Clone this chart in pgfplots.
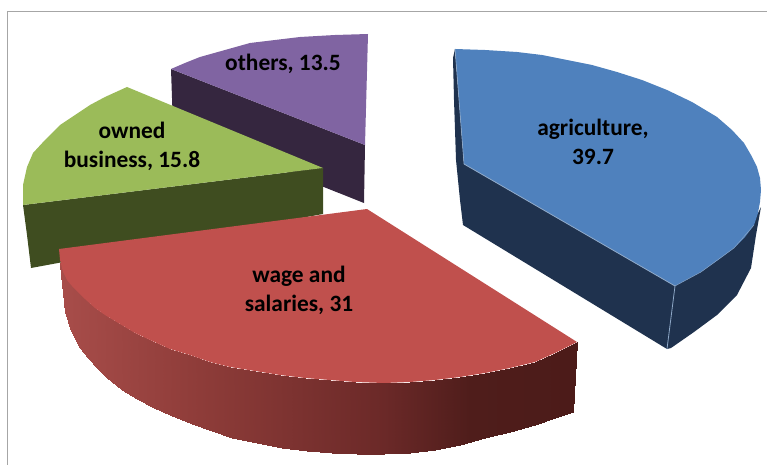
\documentclass[border=0pt]{standalone}
\usepackage{pgfplots}
\pgfplotsset{compat=1.18}
\usepackage{fontspec}
\setmainfont{Carlito}
\definecolor{bluetop}{HTML}{4F81BD}
\definecolor{blueside}{HTML}{1F324E}
\definecolor{bluelight}{HTML}{8FA9C8}
\definecolor{redtop}{HTML}{C0504D}
\definecolor{greentop}{HTML}{9BBB59}
\definecolor{greenside}{HTML}{3F4D20}
\definecolor{purpletop}{HTML}{8064A2}
\definecolor{purpleside}{HTML}{35263F}
\definecolor{framegray}{HTML}{A6A6A6}
\tikzset{lab/.style={font=\fontsize{23.4}{29}\selectfont\bfseries, align=center, text=black}}
\begin{document}
\begin{tikzpicture}
\begin{axis}[
    scale only axis,
    width=767pt,
    height=465pt,
    xmin=0, xmax=767,
    ymin=0, ymax=465,
    y dir=reverse,
    hide axis,
    colormap={redside}{rgb255(60pt)=(168,77,74) rgb255(200pt)=(142,60,57) rgb255(384pt)=(107,41,40) rgb255(470pt)=(79,29,27) rgb255(577pt)=(76,27,25)},
    point meta min=60, point meta max=577,
    every axis plot/.append style={no markers},
]
% page corners, keeps the picture at full size
\addplot[draw=none] coordinates {(0,0) (767,465)};
% frame
\addplot[framegray, line width=1pt] coordinates {(7.5,465) (7.5,12) (767,12)};

% others
\addplot[draw=none, fill=purpleside] coordinates {(171,69) (365,145) (364,203) (173,127)} -- cycle;
\addplot[draw=none, fill=purpletop] coordinates {
    (171,69) (185,63) (200,57) (225,50) (250,43) (275,40) (300,37) (335,35) (368,34)
    (365,145)} -- cycle;

% owned business
\addplot[draw=none, fill=greenside] coordinates {(23,205) (323,168) (323,214) (31,268) (27,235)} -- cycle;
\addplot[draw=none, fill=greentop] coordinates {
    (127,87) (105,97) (90,105) (75,115) (60,125) (45,140) (33,153) (27,167) (23,185) (23,205)
    (323,168)} -- cycle;

% wage and salaries
\addplot[surf, shader=interp, mesh/rows=2, point meta=x] coordinates {
    (60,263) (63,272) (67,280) (72,286) (78,292) (85,299) (95,308) (105,315) (120,324) (135,333)
    (150,340) (170,349) (190,355) (210,362) (230,367) (255,371) (280,375) (305,378) (330,380) (355,382)
    (384,383) (410,382) (435,380) (460,377) (485,373) (510,368) (535,362) (555,353) (577,342)

    (60,265) (65,312) (70,328) (75,339) (80,348) (88,358) (97,368) (107,378) (122,390) (137,399)
    (152,407) (172,416) (192,424) (212,431) (232,438) (257,443) (282,448) (307,451) (332,453) (357,454)
    (384,454) (410,453) (435,450) (460,445) (485,438) (510,432) (535,425) (555,418) (573,412)
};
\addplot[draw=none, fill=redtop] coordinates {
    (59,249) (367,209) (577,342) (555,353) (535,362) (510,368) (485,373) (460,377) (435,380) (410,382)
    (384,383) (355,382) (330,380) (305,378) (280,375) (255,371) (230,367) (210,362) (190,355) (170,349)
    (150,340) (135,333) (120,324) (105,315) (95,308) (85,299) (78,292) (72,286) (67,280) (63,272) (60,260)} -- cycle;

% agriculture
\addplot[draw=none, fill=blueside] coordinates {
    (455,49) (453,58) (454,100) (456,160) (460,200) (463,225) (667,349) (671,348) (694,332) (717,315)
    (737,295) (751,268) (756,235) (761,207) (758,213) (675,286) (464,164)} -- cycle;
\addplot[draw=none, fill=bluetop] coordinates {
    (455,49) (485,50) (517,52) (542,55) (567,60) (592,65) (617,72) (642,80) (667,90) (692,102)
    (717,117) (732,130) (744,143) (751,155) (757,167) (760,178) (761,190) (760,202) (758,213) (754,225)
    (745,237) (734,248) (718,260) (701,272) (688,279) (675,286) (464,164)} -- cycle;
\addplot[bluelight, line width=0.8pt] coordinates {(464,164) (675,286) (667,349)};
\addplot[bluelight, line width=0.4pt] coordinates {(675,286) (701,272) (734,248) (754,225)};
\addplot[bluelight, line width=0.6pt] coordinates {(455,49) (464,164)};

\node[lab] at (axis cs:283,64) {others, 13.5};
\node[lab] at (axis cs:132,146) {owned\\business, 15.8};
\node[lab] at (axis cs:593,142) {agriculture,\\39.7};
\node[lab] at (axis cs:299,290) {wage and\\salaries, 31};
\end{axis}
\end{tikzpicture}
\end{document}
